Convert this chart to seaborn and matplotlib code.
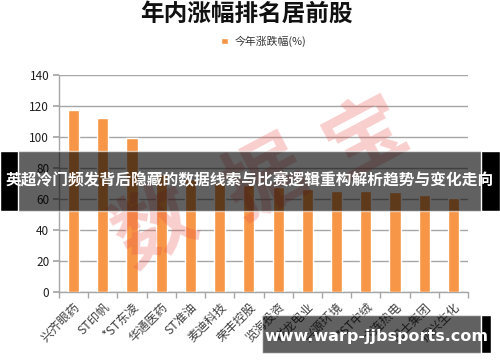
import matplotlib
matplotlib.use("Agg")
import matplotlib.pyplot as plt
import seaborn as sns
import pandas as pd
from matplotlib.patches import Rectangle

stocks = ["兴齐眼药", "ST印帆", "*ST东凌", "华通医药", "ST准油", "麦迪科技", "荣丰控股",
          "览海投资", "祥龙电业", "兴源环境", "*ST中绒", "大连热电", "巴士集团", "振兴生化"]
change = [117.5, 112.0, 99.2, 76.0, 73.0, 71.0, 69.0, 67.5, 66.5, 65.5, 65.0, 64.5, 62.6, 60.8]
series_name = "今年涨跌幅(%)"
title = "年内涨幅排名居前股"
yticks = [0, 20, 40, 60, 80, 100, 120, 140]

sns.set_theme(style="white")
plt.rcParams['font.family'] = ['Noto Sans CJK SC', 'DejaVu Sans']

df = pd.DataFrame({"stock": stocks, "change": change})

fig = plt.figure(figsize=(5, 3.62), dpi=100)
ax = fig.add_axes([0.118, 0.193, 0.818, 0.600])

sns.barplot(data=df, x="stock", y="change", color="#F79646", width=0.38,
            saturation=1, ax=ax, label=series_name, zorder=3)

ax.set_ylim(0, 140)
ax.set_xlim(-0.5, len(stocks) - 0.5)
ax.set_yticks(yticks)
ax.yaxis.grid(True, color="#A6A6A6", linewidth=1)
ax.set_axisbelow(True)
ax.set_xlabel("")
ax.set_ylabel("")
for s in ["top", "right"]:
    ax.spines[s].set_visible(False)
for s in ["left", "bottom"]:
    ax.spines[s].set_color("#A6A6A6")
    ax.spines[s].set_linewidth(1)

ax.tick_params(axis="y", which="major", length=4, color="#A6A6A6", labelsize=8.5,
               labelcolor="#1F1F1F", pad=3, left=True)
ax.set_xticks(range(len(stocks)))
ax.set_xticklabels(stocks, rotation=45, ha="right", rotation_mode="anchor",
                   fontsize=8.8, color="#404040")
ax.tick_params(axis="x", which="major", length=0, pad=6)
ax.set_xticks([i - 0.5 for i in range(len(stocks) + 1)], minor=True)
ax.tick_params(axis="x", which="minor", length=4, color="#A6A6A6", bottom=True)

leg = ax.legend(loc="center", bbox_to_anchor=(0.5, 1.155), frameon=False,
                fontsize=7.8, handlelength=0.6, handleheight=0.6, handletextpad=0.6)
for t in leg.get_texts():
    t.set_color("#333333")

fig.text(0.492, 0.962, title, ha="center", va="center", fontsize=17,
         fontweight="bold", color="#111111")

# watermark
for ch, (x, y) in zip("数据宝", [(0.31, 0.37), (0.53, 0.50), (0.73, 0.62)]):
    fig.text(x, y, ch, ha="center", va="center", fontsize=58, color="#E8504A",
             alpha=0.28, rotation=28, fontweight="bold", zorder=5)

# overlay banner 1
H = 362.0
fig.patches.append(Rectangle((0, 1 - 211 / H), 1, 60 / H, transform=fig.transFigure,
                             facecolor="#000000", alpha=0.62, zorder=10))
fig.patches.append(Rectangle((0, 1 - 211 / H), 18 / 500, 60 / H, transform=fig.transFigure,
                             facecolor="#000000", zorder=11))
fig.patches.append(Rectangle((481 / 500, 1 - 211 / H), 19 / 500, 60 / H, transform=fig.transFigure,
                             facecolor="#000000", zorder=11))
fig.text(0.5, 1 - 179 / H, "英超冷门频发背后隐藏的数据线索与比赛逻辑重构解析趋势与变化走向",
         ha="center", va="center", fontsize=11.3, fontweight="bold", color="white", zorder=12)

# overlay banner 2
fig.patches.append(Rectangle((262 / 500, 1 - 353 / H), 219 / 500, 38 / H, transform=fig.transFigure,
                             facecolor="#000000", alpha=0.62, zorder=10))
fig.patches.append(Rectangle((481 / 500, 1 - 353 / H), 10 / 500, 38 / H, transform=fig.transFigure,
                             facecolor="#000000", zorder=11))
fig.text(376 / 500, 1 - 336 / H, "www.warp-jjbsports.com", ha="center", va="center",
         fontsize=11.5, fontweight="bold", color="white", family="DejaVu Sans", zorder=12)

fig.savefig("out.png", dpi=100)
